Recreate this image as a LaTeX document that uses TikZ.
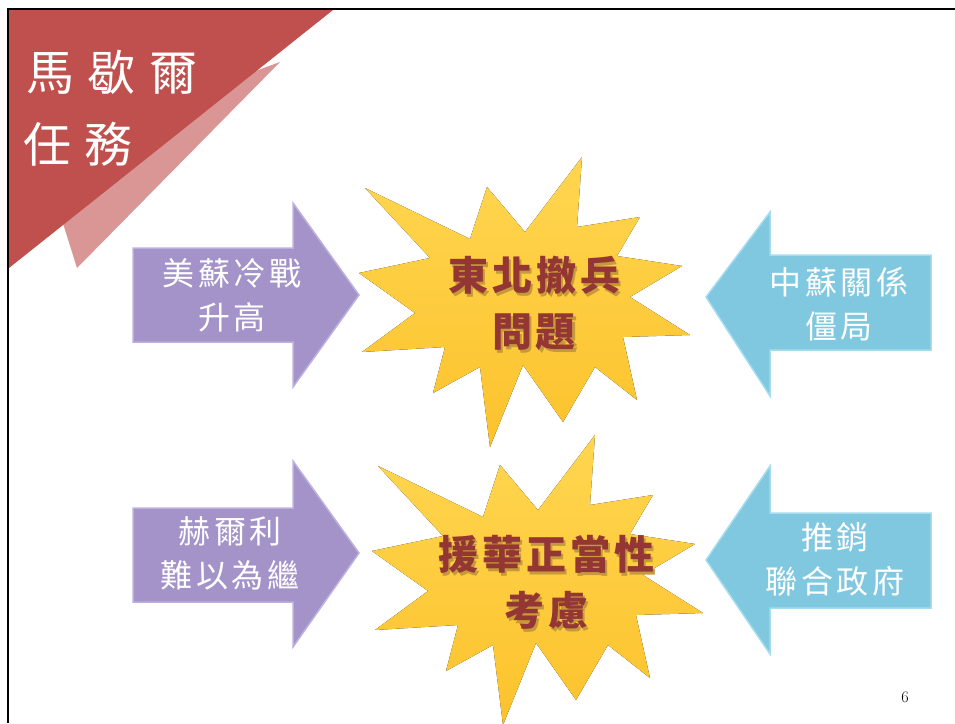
\documentclass[tikz,border=0pt]{standalone}
\usepackage{fontspec}
\newfontfamily\titlefont[LetterSpace=28]{Noto Sans CJK TC}
\newfontfamily\arrowfont[LetterSpace=12]{Noto Sans CJK TC}
\newfontfamily\starfont[LetterSpace=10]{Noto Sans CJK TC}
\definecolor{redtri}{HTML}{C0504D}
\definecolor{pinktri}{HTML}{D99694}
\definecolor{purpleA}{HTML}{A393C8}
\definecolor{purpleL}{HTML}{BDB0DE}
\definecolor{blueA}{HTML}{80C8E0}
\definecolor{blueL}{HTML}{A5DCEE}
\definecolor{starT}{HTML}{FFD650}
\definecolor{starB}{HTML}{FCC22C}
\definecolor{startext}{HTML}{943634}
\definecolor{starshade}{HTML}{C49A3A}
\newcommand{\shd}[1]{\rlap{\kern2.5pt\raisebox{-2.5pt}{\textcolor{starshade}{#1}}}#1}
\tikzset{
  x=1pt, y=-1pt,
  purplearrow/.style={fill=purpleA, draw=purpleL, line width=1.5pt, line join=miter},
  bluearrow/.style={fill=blueA, draw=blueL, line width=1.5pt, line join=miter},
  starshape/.style={top color=starT, bottom color=starB, draw=none},
  arrowtext/.style={text=white, align=center, font=\arrowfont\fontsize{32}{44}\selectfont, inner sep=0pt},
  startext/.style={text=startext, align=center, font=\starfont\bfseries\fontsize{40}{56}\selectfont, inner sep=0pt},
  titletext/.style={text=white, align=left, anchor=west, font=\titlefont\fontsize{48}{72}\selectfont, inner sep=0pt},
}
\def\starpath{(365,188) -- (470,239) -- (487,187) -- (525,232) -- (582,157) -- (577,227) -- (640,217) -- (617,256) -- (682,266) -- (630,297) -- (690,335) -- (623,337) -- (637,400) -- (595,367) -- (563,422) -- (523,365) -- (490,447) -- (480,367) -- (433,393) -- (445,347) -- (362,352) -- (415,313) -- (359,273) -- (430,258) -- cycle}
\begin{document}
\begin{tikzpicture}
\useasboundingbox (0,0) rectangle (955,723);
\clip (0,0) rectangle (955,723);
\fill[white] (0,0) rectangle (955,723);
% title triangles
\fill[pinktri] (280,62) -- (77,268) -- (40,150) -- cycle;
\fill[redtri] (9,10) -- (333,10) -- (9,268) -- cycle;
% border
\draw[black, line width=2.5pt] (8,723) -- (8,9) -- (955,9);
\node[titletext] (t1) at (26,72) {馬歇爾};
\node[titletext] (t2) at (23,144) {任務};
% stars
\fill[starshape] \starpath;
\begin{scope}[shift={(13,278)}]
\fill[starshape] \starpath;
\end{scope}
% purple arrows
\draw[purplearrow] (133,248) -- (293,248) -- (293,203) -- (359,295) -- (293,387) -- (293,342) -- (133,342) -- cycle;
\draw[purplearrow] (133,508) -- (293,508) -- (293,461) -- (359,553) -- (293,647) -- (293,602) -- (133,602) -- cycle;
% blue arrows
\draw[bluearrow] (931,255) -- (770,255) -- (770,212) -- (706,297) -- (770,396) -- (770,350) -- (931,350) -- cycle;
\draw[bluearrow] (931,513) -- (770,513) -- (770,466) -- (706,560) -- (770,654) -- (770,608) -- (931,608) -- cycle;
% arrow texts
\node[arrowtext] (a1) at (232,295) {美蘇冷戰\\升高};
\node[arrowtext] (a2) at (230,553) {赫爾利\\難以為繼};
\node[arrowtext] (a3) at (839,304) {中蘇關係\\僵局};
\node[arrowtext] (a4) at (835,559) {推銷\\聯合政府};
% star texts
\node[startext] (s1) at (534,305) {\shd{東北撤兵}\\\shd{問題}};
\node[startext] (s2) at (546,584) {\shd{援華正當性}\\\shd{考慮}};
% page number
\node (pg) at (905,697) {\fontsize{16}{18}\selectfont 6};
\end{tikzpicture}
\end{document}
